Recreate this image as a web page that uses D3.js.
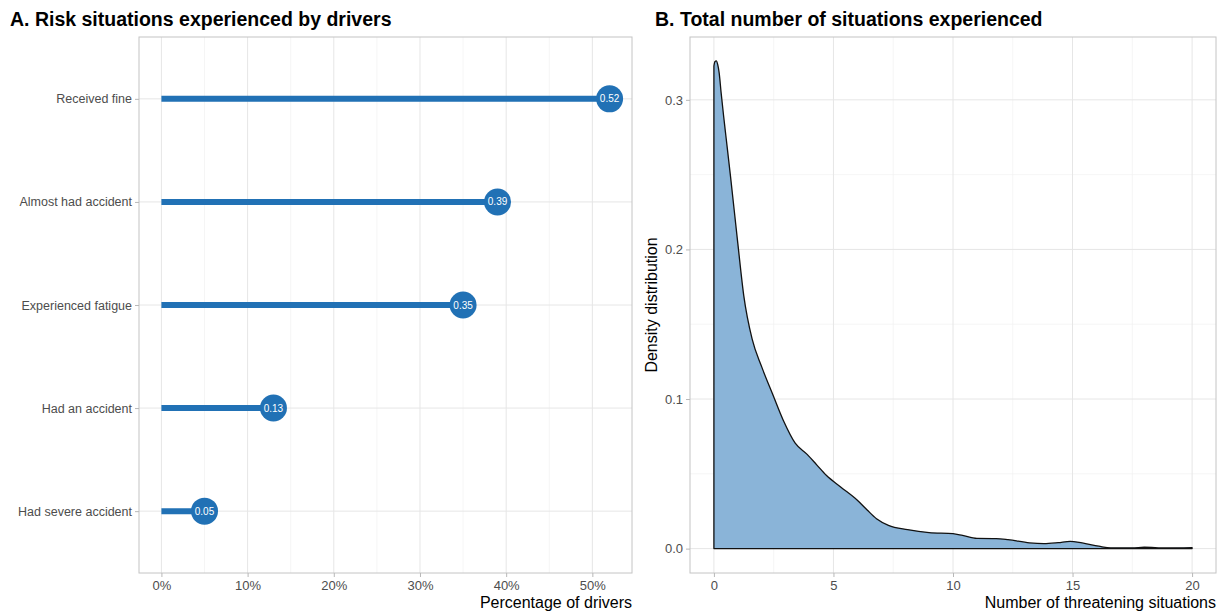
<!DOCTYPE html>
<html>
<head>
<meta charset="utf-8">
<script src="https://cdn.jsdelivr.net/npm/d3@7"></script>
<style>
  html, body { margin: 0; padding: 0; background: #ffffff; }
  svg { display: block; font-family: "Liberation Sans", Arial, sans-serif; }
</style>
</head>
<body>
<svg id="chart" width="1224" height="613"></svg>
<script>
// Panel A: share of drivers who experienced each risk situation
const categories = ["Received fine", "Almost had accident", "Experienced fatigue", "Had an accident", "Had severe accident"];
const shares = [0.52, 0.39, 0.35, 0.13, 0.05];
const pctTicks = [0, 0.1, 0.2, 0.3, 0.4, 0.5];
const pctMinorTicks = [0.05, 0.15, 0.25, 0.35, 0.45];

// Panel B: density of the total number of situations experienced
const situationCounts = [0, 0.04, 0.1, 0.16, 0.22, 0.3, 0.4, 0.5, 0.7, 1.0, 1.25, 1.6, 2.0, 2.45, 2.9, 3.4, 3.9, 4.3, 4.7, 5.3, 6.0, 6.4, 6.8, 7.3, 8.1, 9.0, 10.0, 10.4, 11.0, 11.8, 12.3, 13.2, 13.8, 14.4, 14.9, 15.4, 16.1, 16.6, 17.5, 18.0, 18.9, 20];
const densityValues = [0.3226, 0.3255, 0.326, 0.3235, 0.318, 0.305, 0.290, 0.276, 0.248, 0.204, 0.169, 0.140, 0.1215, 0.1035, 0.0858, 0.0705, 0.0630, 0.0560, 0.0490, 0.0412, 0.0323, 0.0260, 0.0200, 0.0156, 0.0127, 0.0107, 0.0100, 0.0088, 0.0068, 0.0067, 0.0060, 0.0038, 0.0033, 0.0040, 0.0049, 0.0038, 0.0016, 0.0005, 0.0005, 0.0009, 0.0004, 0.0007];
const countTicks = [0, 5, 10, 15, 20];
const countMinorTicks = [2.5, 7.5, 12.5, 17.5];
const densityTicks = [0, 0.1, 0.2, 0.3];
const densityMinorTicks = [0.05, 0.15, 0.25];

const svg = d3.select("#chart");
const GRID = "#e6e6e6", GRID_MINOR = "#f0f0f0", BORDER = "#c4c4c4", TICK = "#b8b8b8", TEXT = "#4d4d4d";
const BLUE = "#2171b5";

const panelTop = 37, panelBottom = 573;

function styleAxis(g) {
  g.select(".domain").remove();
  g.selectAll(".tick line").attr("stroke", TICK);
  g.selectAll(".tick text").attr("fill", TEXT).attr("font-size", 12.5);
}

// ---------- Panel A ----------
const aLeft = 139, aRight = 632;
const xA = d3.scaleLinear().domain([-0.026, 0.546]).range([aLeft, aRight]);
const yA = d3.scalePoint().domain(categories).range([panelTop, panelBottom]).padding(0.6);

const gA = svg.append("g");
gA.append("text").attr("x", 10).attr("y", 26).attr("font-size", 19.5).attr("font-weight", "bold")
  .attr("fill", "#000").text("A. Risk situations experienced by drivers");

gA.selectAll(".minor").data(pctMinorTicks).join("line")
  .attr("x1", d => xA(d)).attr("x2", d => xA(d)).attr("y1", panelTop).attr("y2", panelBottom)
  .attr("stroke", GRID_MINOR).attr("stroke-width", 0.7);
gA.selectAll(".major").data(pctTicks).join("line")
  .attr("x1", d => xA(d)).attr("x2", d => xA(d)).attr("y1", panelTop).attr("y2", panelBottom)
  .attr("stroke", GRID).attr("stroke-width", 1);
gA.selectAll(".hgrid").data(categories).join("line")
  .attr("x1", aLeft).attr("x2", aRight).attr("y1", d => yA(d)).attr("y2", d => yA(d))
  .attr("stroke", GRID).attr("stroke-width", 1);

gA.append("rect").attr("x", aLeft).attr("y", panelTop).attr("width", aRight - aLeft).attr("height", panelBottom - panelTop)
  .attr("fill", "none").attr("stroke", BORDER).attr("stroke-width", 1);

gA.append("g").attr("transform", `translate(0,${panelBottom})`)
  .call(d3.axisBottom(xA).tickValues(pctTicks).tickFormat(d3.format(".0%")).tickSize(4).tickPadding(4))
  .call(styleAxis)
  .call(g => g.selectAll(".tick text").attr("font-size", 13));
gA.append("g").attr("transform", `translate(${aLeft},0)`)
  .call(d3.axisLeft(yA).tickSize(4).tickPadding(3))
  .call(styleAxis);

const rows = categories.map((c, i) => ({ c, v: shares[i] }));
gA.selectAll(".stem").data(rows).join("line")
  .attr("x1", xA(0)).attr("x2", d => xA(d.v)).attr("y1", d => yA(d.c)).attr("y2", d => yA(d.c))
  .attr("stroke", BLUE).attr("stroke-width", 6);
gA.selectAll(".dot").data(rows).join("circle")
  .attr("cx", d => xA(d.v)).attr("cy", d => yA(d.c)).attr("r", 13.5).attr("fill", BLUE);
gA.selectAll(".val").data(rows).join("text")
  .attr("x", d => xA(d.v)).attr("y", d => yA(d.c)).attr("dy", "0.35em")
  .attr("text-anchor", "middle").attr("font-size", 10).attr("fill", "#ffffff")
  .text(d => d3.format(".2f")(d.v));

gA.append("text").attr("x", aRight).attr("y", 608).attr("text-anchor", "end")
  .attr("font-size", 16).attr("fill", "#000").text("Percentage of drivers");

// ---------- Panel B ----------
const bLeft = 690, bRight = 1216;
const xB = d3.scaleLinear().domain([-1, 21]).range([bLeft, bRight]);
const yB = d3.scaleLinear().domain([-0.0163, 0.342]).range([panelBottom, panelTop]);

const gB = svg.append("g");
gB.append("text").attr("x", 655).attr("y", 26).attr("font-size", 19.5).attr("font-weight", "bold")
  .attr("fill", "#000").text("B. Total number of situations experienced");

gB.selectAll(".vminor").data(countMinorTicks).join("line")
  .attr("x1", d => xB(d)).attr("x2", d => xB(d)).attr("y1", panelTop).attr("y2", panelBottom)
  .attr("stroke", GRID_MINOR).attr("stroke-width", 0.7);
gB.selectAll(".hminor").data(densityMinorTicks).join("line")
  .attr("x1", bLeft).attr("x2", bRight).attr("y1", d => yB(d)).attr("y2", d => yB(d))
  .attr("stroke", GRID_MINOR).attr("stroke-width", 0.7);
gB.selectAll(".vmajor").data(countTicks).join("line")
  .attr("x1", d => xB(d)).attr("x2", d => xB(d)).attr("y1", panelTop).attr("y2", panelBottom)
  .attr("stroke", GRID).attr("stroke-width", 1);
gB.selectAll(".hmajor").data(densityTicks).join("line")
  .attr("x1", bLeft).attr("x2", bRight).attr("y1", d => yB(d)).attr("y2", d => yB(d))
  .attr("stroke", GRID).attr("stroke-width", 1);

const densityPoints = situationCounts.map((x, i) => [x, densityValues[i]]);
const area = d3.area()
  .x(d => xB(d[0])).y0(yB(0)).y1(d => yB(d[1]))
  .curve(d3.curveMonotoneX);
gB.append("path").datum(densityPoints).attr("d", area)
  .attr("fill", "#8ab4d8").attr("stroke", "#111111").attr("stroke-width", 1.3)
  .attr("stroke-linejoin", "round");

gB.append("rect").attr("x", bLeft).attr("y", panelTop).attr("width", bRight - bLeft).attr("height", panelBottom - panelTop)
  .attr("fill", "none").attr("stroke", BORDER).attr("stroke-width", 1);

gB.append("g").attr("transform", `translate(0,${panelBottom})`)
  .call(d3.axisBottom(xB).tickValues(countTicks).tickFormat(d3.format("d")).tickSize(4).tickPadding(4))
  .call(styleAxis)
  .call(g => g.selectAll(".tick text").attr("font-size", 13));
gB.append("g").attr("transform", `translate(${bLeft},0)`)
  .call(d3.axisLeft(yB).tickValues(densityTicks).tickFormat(d3.format(".1f")).tickSize(4).tickPadding(3))
  .call(styleAxis)
  .call(g => g.selectAll(".tick text").attr("font-size", 13));

gB.append("text").attr("x", bRight).attr("y", 608).attr("text-anchor", "end")
  .attr("font-size", 16).attr("fill", "#000").text("Number of threatening situations");
gB.append("text").attr("transform", `translate(657,${(panelTop + panelBottom) / 2}) rotate(-90)`)
  .attr("text-anchor", "middle").attr("font-size", 16).attr("fill", "#000").text("Density distribution");
</script>
</body>
</html>
